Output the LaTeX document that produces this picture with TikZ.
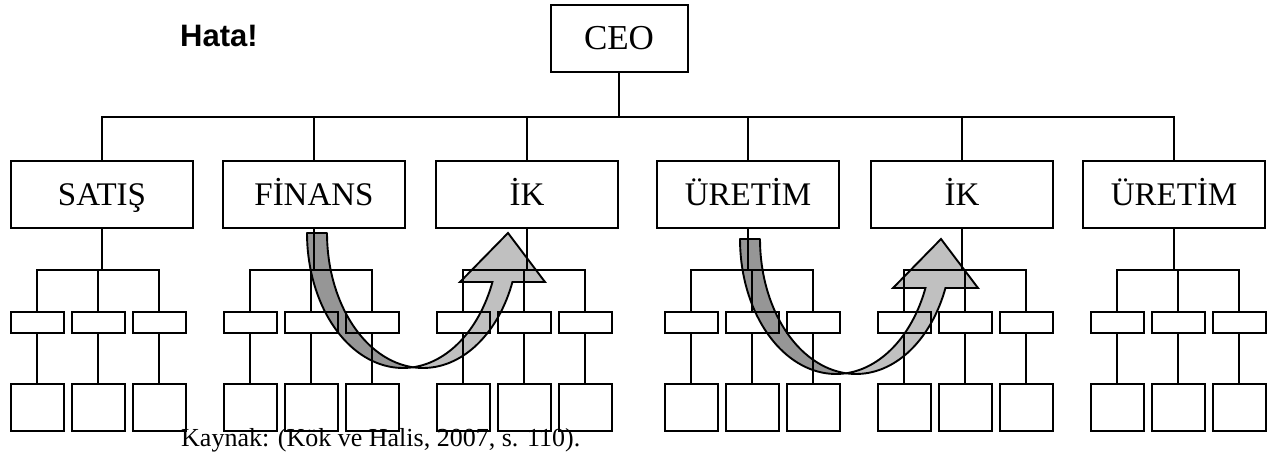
\documentclass[tikz,border=0pt]{standalone}
\usepackage{fontspec}
\setmainfont{Liberation Serif}
\newfontfamily\labelsans{Liberation Sans}
\definecolor{bandDark}{RGB}{150,150,150}
\definecolor{bandLight}{RGB}{192,192,192}

% Curved band arrow: left arm (back face) from a flat end, right arm (front face)
% rising to an arrow head. #1,#2 = centre of the inner ellipse (top level of the band).
\newcommand{\bandarrow}[2]{%
  \filldraw[backface]
    plot[domain=180:84,samples=40] ({#1+96*cos(\x)},{#2+135*sin(\x)})
    -- plot[domain=96:180,samples=40] ({#1+20+96*cos(\x)},{#2+135*sin(\x)})
    -- cycle;
  \filldraw[frontface]
    plot[domain=96:21.3,samples=40] ({#1+20+96*cos(\x)},{#2+135*sin(\x)})
    -- ({#1+142},{#2+49}) -- ({#1+105},{#2}) -- ({#1+57},{#2+49})
    -- plot[domain=21.3:84,samples=40] ({#1+96*cos(\x)},{#2+135*sin(\x)})
    -- cycle;}

\begin{document}
\begin{tikzpicture}[x=1pt,y=-1pt,
  box/.style={draw, line width=2pt, inner sep=0pt, rectangle},
  ceobox/.style={box, minimum width=137pt, minimum height=67pt,
                 text height=23pt, text depth=0pt,
                 font=\fontsize{35}{40}\selectfont},
  deptbox/.style={box, minimum width=182pt, minimum height=67pt,
                  text height=22pt, text depth=0pt,
                  font=\fontsize{33}{38}\selectfont},
  unitbox/.style={box, minimum width=53pt, minimum height=21pt},
  staffbox/.style={box, minimum width=53pt, minimum height=47pt},
  link/.style={draw, line width=2pt},
  backface/.style={fill=bandDark, draw=black, line width=1.9pt, line join=round},
  frontface/.style={fill=bandLight, draw=black, line width=1.9pt, line join=miter}]

\useasboundingbox (0,0) rectangle (1275,460);

% transfer arrows (drawn first, the chart lines pass over them)
\bandarrow{403}{233}
\bandarrow{836}{239}

% top level
\node[ceobox] (ceo) at (619,38.5) {CEO};
\coordinate (bus) at (0,117);

\foreach \i/\x/\t in {1/102/SATIŞ, 2/314/FİNANS, 3/527/İK,
                      4/748/ÜRETİM, 5/962/İK, 6/1174/ÜRETİM}
  \node[deptbox] (d\i) at (\x,194.5) {\t};

\draw[link] (ceo.south) -- (ceo.south |- bus);
\draw[link] ([xshift=-1pt]d1.north |- bus) -- ([xshift=1pt]d6.north |- bus);
\foreach \i in {1,...,6}
  \draw[link] (d\i.north |- bus) -- (d\i.north);

% sub-units under each department
\foreach \i/\g in {1/98, 2/311, 3/524, 4/752, 5/965, 6/1178} {
  \coordinate (g\i) at (\g,270);
  \draw[link] (d\i.south) -- (d\i.south |- g\i);
  \draw[link] ([xshift=-62pt]g\i) -- ([xshift=62pt]g\i);
  \foreach \j/\o in {1/-61, 2/0, 3/61} {
    \node[unitbox] (u\i\j) at ({\g+\o},322.5) {};
    \node[staffbox] (s\i\j) at ({\g+\o},407.5) {};
    \draw[link] (u\i\j.north |- g\i) -- (u\i\j.north);
    \draw[link] (u\i\j.south) -- (s\i\j.north);
  }
}

\node[font=\labelsans\bfseries\fontsize{31}{36}\selectfont,
      anchor=base west, inner sep=0pt] (hata) at (180,47) {Hata!};
\node[font=\fontsize{26}{30}\selectfont, anchor=base west, inner sep=0pt]
      (source) at (181,446) {Kaynak: (Kök ve Halis, 2007, s. 110).};
\end{tikzpicture}
\end{document}
